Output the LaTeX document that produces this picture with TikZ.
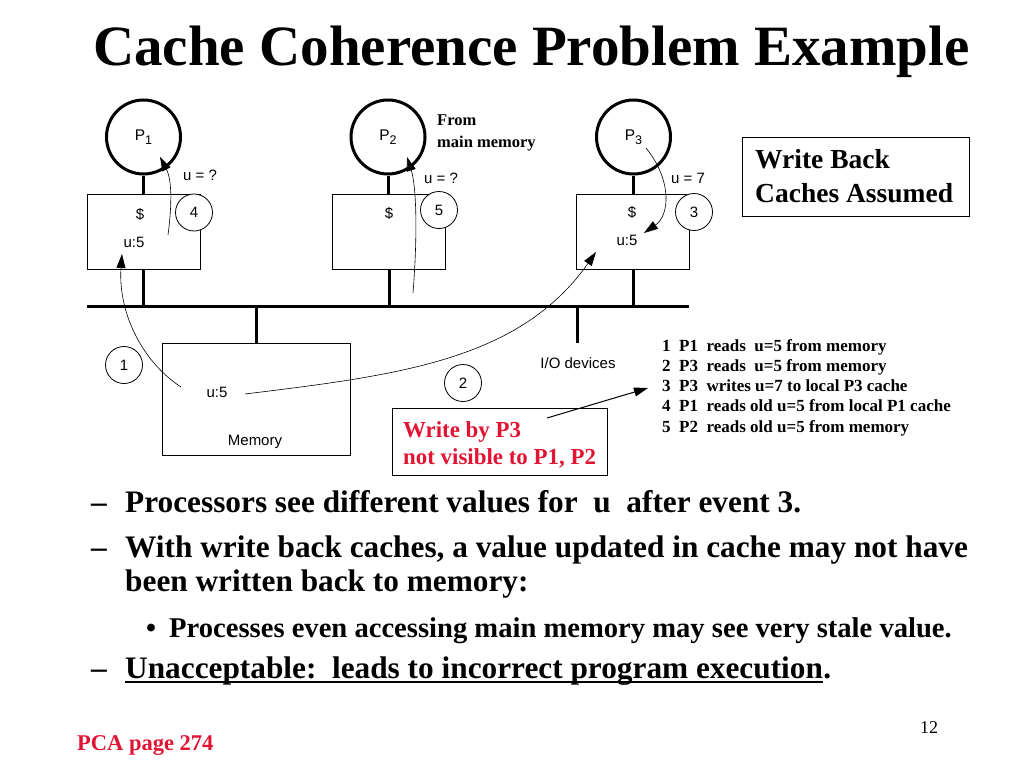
\documentclass[tikz,border=0pt]{standalone}
\usepackage{fontspec}
\setmainfont{Liberation Serif}
\newfontfamily\sansf{Liberation Sans}
\usetikzlibrary{arrows.meta}
\definecolor{redtxt}{RGB}{226,20,52}
\newcommand\setfs[1]{\fontsize{#1}{#1}\selectfont}
\newcommand\psub[1]{P\raisebox{-3.5pt}{\setfs{12.5}#1}}
\begin{document}
\begin{tikzpicture}[x=1pt,y=-1pt,
  titlefont/.style={anchor=base west,inner sep=0pt,font=\bfseries\setfs{57}},
  proc/.style={circle,draw,line width=3pt,minimum size=74pt,inner sep=0pt,font=\sansf\setfs{15.5}},
  cachebox/.style={draw,line width=0.9pt,minimum width=113pt,minimum height=75pt,inner sep=0pt},
  num/.style={circle,draw,fill=white,line width=0.8pt,minimum size=37pt,inner sep=0pt,font=\sansf\setfs{15}},
  lbl/.style={inner sep=0pt,font=\sansf\setfs{15}},
  stem/.style={line width=3pt},
  arr/.style={-{Triangle[length=14pt,width=9pt]},line width=0.6pt},
  legend/.style={anchor=base west,inner sep=0pt,font=\bfseries\setfs{17}},
  bul/.style={anchor=base west,inner sep=0pt,font=\bfseries\setfs{31.3}},
  subbul/.style={anchor=base west,inner sep=0pt,font=\bfseries\setfs{28.6}},
  redtext/.style={anchor=base west,inner sep=0pt,font=\bfseries\setfs{22.9},text=redtxt},
  wbtext/.style={anchor=base west,inner sep=0pt,font=\bfseries\setfs{27.5}},
  plainbox/.style={draw,line width=0.9pt,inner sep=0pt}
]
\useasboundingbox (0,0) rectangle (1024,768);

% title
\node[titlefont] (title) at (93,65) {Cache Coherence Problem Example};

% processors
\node[proc] (p1) at (143.5,137) {\psub{1}};
\node[proc] (p2) at (388,137) {\psub{2}};
\node[proc] (p3) at (633.5,137) {\psub{3}};

% caches
\node[cachebox] (c1) at (143.5,231.5) {};
\node[cachebox] (c2) at (389,231.5) {};
\node[cachebox] (c3) at (633,231.5) {};

\draw[stem] (p1.south) -- (p1.south |- c1.north);
\draw[stem] (p2.south) -- (p2.south |- c2.north);
\draw[stem] (p3.south) -- (p3.south |- c3.north);

\node[lbl] (d1) at (140,214) {\$};
\node[lbl] (u1) at (134,242) {u:5};
\node[lbl] (q1) at (200,175) {u = ?};
\node[num] (n4) at (194,212.5) {4};

\node[lbl] (d2) at (389,213) {\$};
\node[lbl] (q2) at (441,178) {u = ?};
\node[num] (n5) at (439,210) {5};

\node[lbl] (d3) at (632,212) {\$};
\node[lbl] (u3) at (627,240) {u:5};
\node[lbl] (q3) at (688,178) {u = 7};
\node[num] (n3) at (694,212) {3};

\node[font=\bfseries\setfs{16.5},anchor=base west,inner sep=0pt] (from1) at (437,125) {From};
\node[font=\bfseries\setfs{16.5},anchor=base west,inner sep=0pt] (from2) at (437,147) {main memory};

% bus
\coordinate (busL) at (87,306);
\coordinate (busR) at (689,306);
\draw[stem] (busL) -- (busR);
\draw[stem] (c1.south) -- (c1.south |- busL);
\draw[stem] (c2.south) -- (c2.south |- busL);
\draw[stem] (c3.south) -- (c3.south |- busL);

% memory
\node[cachebox,minimum width=188pt,minimum height=112pt] (mem) at (256,399) {};
\draw[stem] (mem.north) -- (mem.north |- busL);
\node[lbl] (mu) at (217,392) {u:5};
\node[lbl] (mlab) at (255,442) {Memory};

% I/O
\coordinate (io) at (577,343);
\draw[stem] (io) -- (io |- busL);
\node[lbl] (iolab) at (578,363) {I/O devices};

\node[num] (n1) at (124,365) {1};
\node[num] (n2) at (463,383) {2};

% arrows
\coordinate (a1s) at (181,387);
\coordinate (a1e) at (122,254);
\draw[arr] (a1s) .. controls (140,360) and (118,310) .. (a1e);

\coordinate (a2s) at (245,394);
\coordinate (a2e) at (596,252);
\draw[arr] (a2s) .. controls (400,375) and (520,360) .. (a2e);

\coordinate (a3s) at (646,148);
\coordinate (a3e) at (644,233);
\draw[arr] (a3s) .. controls (672,180) and (670,215) .. (a3e);

\coordinate (a4s) at (168,235);
\coordinate (a4e) at (160,157);
\draw[arr] (a4s) .. controls (172,205) and (172,180) .. (a4e);

\coordinate (a5s) at (413,293);
\coordinate (a5e) at (407,157);
\draw[arr] (a5s) .. controls (418,230) and (416,185) .. (a5e);

% write back box
\node[plainbox,minimum width=227pt,minimum height=79pt] (wb) at (855.5,176.5) {};
\node[wbtext] (wb1) at (755,168) {Write Back};
\node[wbtext] (wb2) at (755,202) {Caches Assumed};

% legend
\node[legend] (leg1) at (662,351) {1\ \ P1\ \ reads\ \ u=5 from memory};
\node[legend] (leg2) at (662,371.3) {2\ \ P3\ \ reads\ \ u=5 from memory};
\node[legend] (leg3) at (662,391.6) {3\ \ P3\ \ writes u=7 to local P3 cache};
\node[legend] (leg4) at (662,411.9) {4\ \ P1\ \ reads old u=5 from local P1 cache};
\node[legend] (leg5) at (662,432.2) {5\ \ P2\ \ reads old u=5 from memory};

% red box
\node[plainbox,minimum width=215pt,minimum height=67pt] (rbox) at (499.5,441.5) {};
\node[redtext] (r1) at (403,437) {Write by P3};
\node[redtext] (r2) at (403,464) {not visible to P1, P2};
\coordinate (ras) at (547,418);
\coordinate (rae) at (648,388);
\draw[arr,line width=1pt] (ras) -- (rae);

% bullets
\node[bul] (dash1) at (91,512) {\textendash};
\node[bul] (b1) at (125,512) {Processors see different values for\ \ u\ \ after event 3.};
\node[bul] (dash2) at (91,557) {\textendash};
\node[bul] (b2) at (125,557) {With write back caches, a value updated in cache may not have};
\node[bul] (b3) at (125,591) {been written back to memory:};
\node[subbul] (dot4) at (146,637) {•};
\node[subbul] (b4) at (169,637) {Processes even accessing main memory may see very stale value.};
\node[bul] (dash5) at (91,678) {\textendash};
\node[bul] (b5) at (125,678) {Unacceptable:\ \ leads to incorrect program execution};
\node[bul] (b5p) at (b5.base east) {.};
\draw[line width=2pt] ([yshift=-4pt]b5.base west) -- ([yshift=-4pt]b5.base east);

% footer
\node[anchor=base west,inner sep=0pt,font=\bfseries\setfs{22.5},text=redtxt] (pca) at (77,750) {PCA page 274};
\node[anchor=base west,inner sep=0pt,font=\setfs{18}] (pnum) at (920,733) {12};
\end{tikzpicture}
\end{document}
